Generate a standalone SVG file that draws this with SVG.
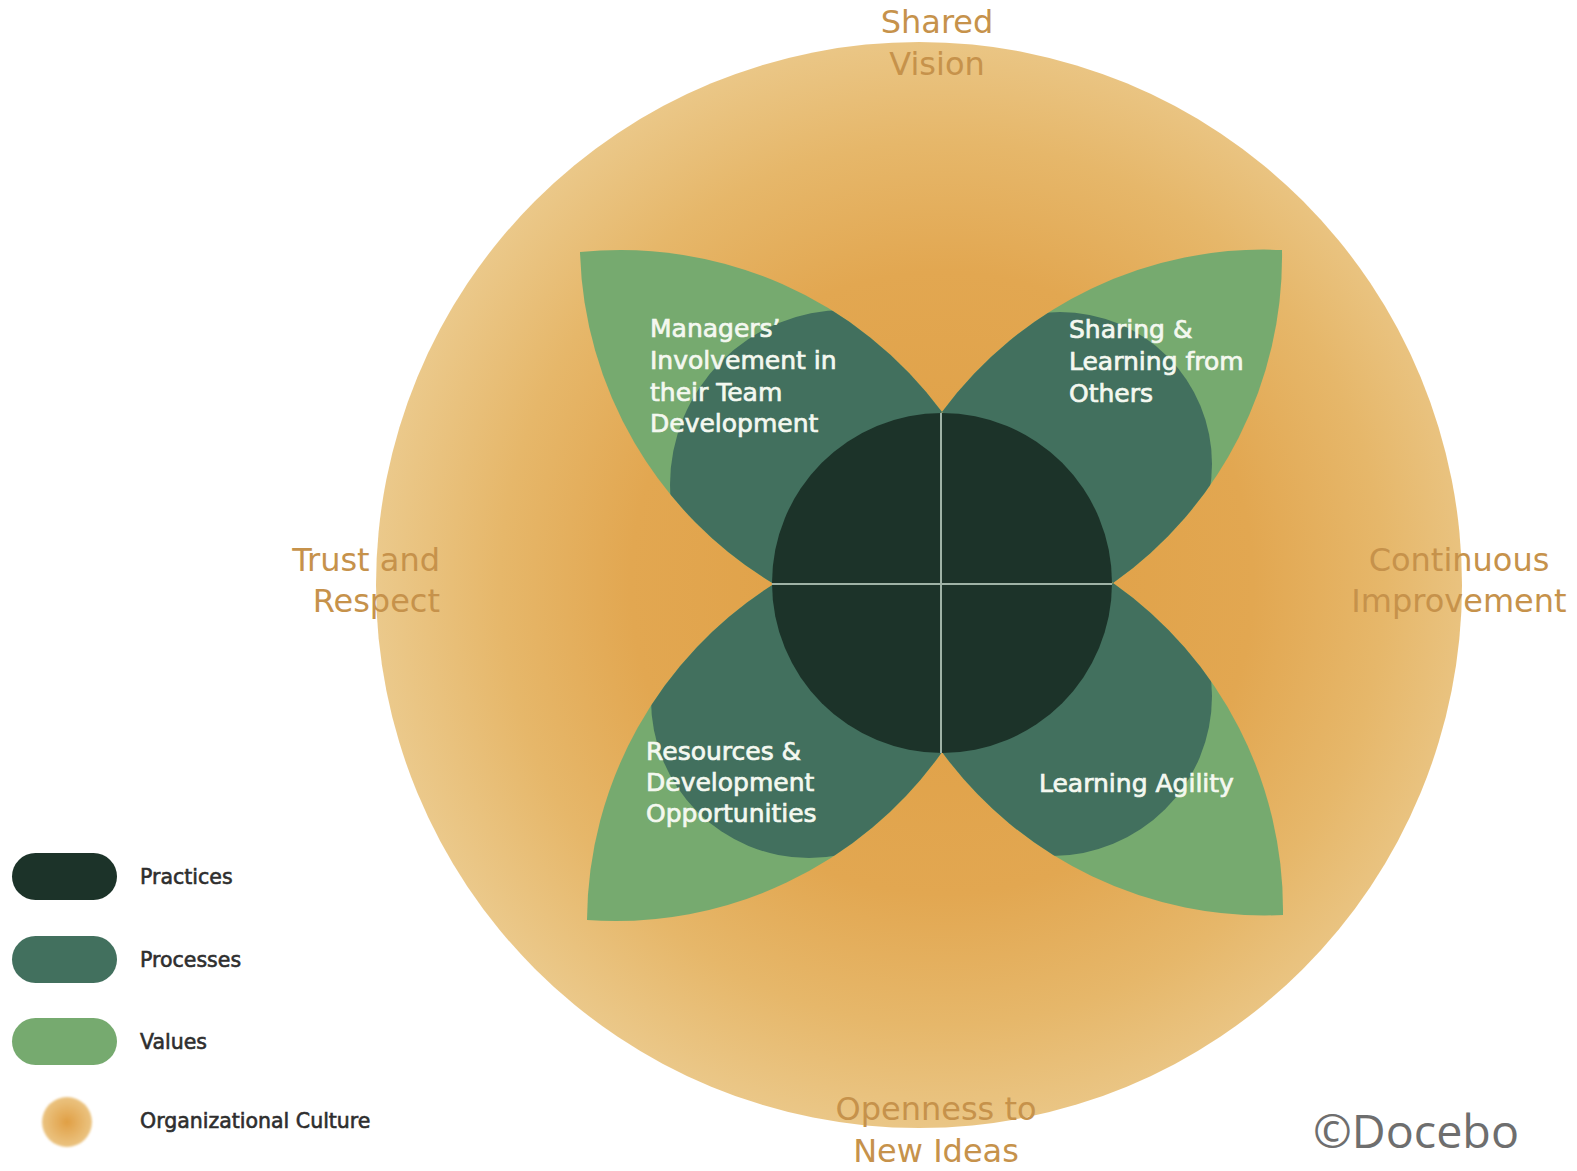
<svg xmlns="http://www.w3.org/2000/svg" width="1577" height="1171" viewBox="0 0 1577 1171">
  <style>
    .value { fill: #76aa6f; }
    .process { fill: #42705e; }
    .practice { fill: #1c3329; }
    .inner-label { font-family: "DejaVu Sans", "Liberation Sans", sans-serif; font-size: 25px; fill: #f4f8f0; stroke: #f4f8f0; stroke-width: 0.7px; }
    .outer-label { font-family: "DejaVu Sans", "Liberation Sans", sans-serif; font-size: 32px; fill: #c6924b; }
    .legend-label { font-family: "DejaVu Sans", "Liberation Sans", sans-serif; font-size: 20.5px; fill: #2e2e2e; stroke: #2e2e2e; stroke-width: 0.6px; }
    .divider { stroke: #9fb3a6; stroke-width: 2; }
    .credit { font-family: "Open Sans", "Liberation Sans", sans-serif; font-size: 46px; fill: #6e6e6e; }
  </style>
  <defs>
    <radialGradient id="cultureFill" gradientUnits="userSpaceOnUse" cx="942" cy="583" r="566">
      <stop offset="0" stop-color="#df9e43"/>
      <stop offset="0.55" stop-color="#e2a751"/>
      <stop offset="0.78" stop-color="#e6b76a"/>
      <stop offset="1" stop-color="#ebc98b"/>
    </radialGradient>
    <radialGradient id="cultureDot" cx="0.5" cy="0.5" r="0.5">
      <stop offset="0" stop-color="#e09f45"/>
      <stop offset="1" stop-color="#ebc482"/>
    </radialGradient>
    <filter id="soft" x="-20%" y="-20%" width="140%" height="140%">
      <feGaussianBlur stdDeviation="1.2"/>
    </filter>
    <clipPath id="clipTL"><path d="M580,252 A400,400 0 0 1 942,412 L774,584 A400,400 0 0 1 580,252 Z"/></clipPath>
    <clipPath id="clipTR"><path d="M1282,250 A400,400 0 0 1 1113,583 L942,412 A400,400 0 0 1 1282,250 Z"/></clipPath>
    <clipPath id="clipBL"><path d="M587,920 A400,400 0 0 1 774,584 L942,752 A400,400 0 0 1 587,920 Z"/></clipPath>
    <clipPath id="clipBR"><path d="M1283,915 A400,400 0 0 1 942,752 L1113,583 A400,400 0 0 1 1283,915 Z"/></clipPath>
  </defs>

  <rect width="1577" height="1171" fill="#ffffff"/>

  <!-- organizational culture: outer disc -->
  <g id="culture">
    <circle cx="919" cy="585" r="543" fill="url(#cultureFill)"/>
  </g>

  <!-- petals: values (outer lens) with processes (inner disc) -->
  <g id="petal-managers">
    <path class="value" d="M580,252 A400,400 0 0 1 942,412 L774,584 A400,400 0 0 1 580,252 Z"/>
    <circle class="process" cx="845" cy="485" r="175" clip-path="url(#clipTL)"/>
  </g>
  <g id="petal-sharing">
    <path class="value" d="M1282,250 A400,400 0 0 1 1113,583 L942,412 A400,400 0 0 1 1282,250 Z"/>
    <circle class="process" cx="1060" cy="464" r="152" clip-path="url(#clipTR)"/>
  </g>
  <g id="petal-resources">
    <path class="value" d="M587,920 A400,400 0 0 1 774,584 L942,752 A400,400 0 0 1 587,920 Z"/>
    <circle class="process" cx="809" cy="700" r="158" clip-path="url(#clipBL)"/>
  </g>
  <g id="petal-agility">
    <path class="value" d="M1283,915 A400,400 0 0 1 942,752 L1113,583 A400,400 0 0 1 1283,915 Z"/>
    <circle class="process" cx="1052" cy="696" r="160" clip-path="url(#clipBR)"/>
  </g>

  <!-- practices: centre disc -->
  <g id="practices">
    <circle class="practice" cx="942" cy="583" r="170"/>
  </g>

  <!-- quarter dividers across the centre disc -->
  <g id="dividers">
    <line class="divider" x1="941" y1="413" x2="941" y2="753"/>
    <line class="divider" x1="772" y1="584" x2="1112" y2="584"/>
  </g>

  <!-- petal labels -->
  <g id="label-managers" class="inner-label">
    <text x="650" y="337">Managers’</text>
    <text x="650" y="369">Involvement in</text>
    <text x="650" y="401">their Team</text>
    <text x="650" y="432">Development</text>
  </g>
  <g id="label-sharing" class="inner-label">
    <text x="1069" y="338">Sharing &amp;</text>
    <text x="1069" y="370">Learning from</text>
    <text x="1069" y="402">Others</text>
  </g>
  <g id="label-resources" class="inner-label">
    <text x="646" y="760">Resources &amp;</text>
    <text x="646" y="791">Development</text>
    <text x="646" y="822">Opportunities</text>
  </g>
  <g id="label-agility" class="inner-label">
    <text x="1039" y="792">Learning Agility</text>
  </g>

  <!-- culture traits around the disc -->
  <g id="trait-vision" class="outer-label" text-anchor="middle">
    <text x="937" y="33">Shared</text>
    <text x="937" y="75">Vision</text>
  </g>
  <g id="trait-trust" class="outer-label" text-anchor="end">
    <text x="440" y="571">Trust and</text>
    <text x="440" y="612">Respect</text>
  </g>
  <g id="trait-improvement" class="outer-label" text-anchor="middle">
    <text x="1459" y="571">Continuous</text>
    <text x="1459" y="612">Improvement</text>
  </g>
  <g id="trait-openness" class="outer-label" text-anchor="middle">
    <text x="936" y="1120">Openness to</text>
    <text x="936" y="1162">New Ideas</text>
  </g>

  <!-- legend -->
  <g id="legend">
    <g id="legend-practices">
      <rect x="12" y="853" width="105" height="47" rx="23.5" class="practice"/>
      <text x="140" y="884" class="legend-label">Practices</text>
    </g>
    <g id="legend-processes">
      <rect x="12" y="936" width="105" height="47" rx="23.5" class="process"/>
      <text x="140" y="967" class="legend-label">Processes</text>
    </g>
    <g id="legend-values">
      <rect x="12" y="1018" width="105" height="47" rx="23.5" class="value"/>
      <text x="140" y="1049" class="legend-label">Values</text>
    </g>
    <g id="legend-culture">
      <circle cx="67" cy="1122" r="25" fill="url(#cultureDot)" filter="url(#soft)"/>
      <text x="140" y="1128" class="legend-label">Organizational Culture</text>
    </g>
  </g>

  <text id="credit" x="1313" y="1148" class="credit" textLength="206" lengthAdjust="spacingAndGlyphs">©Docebo</text>
</svg>
